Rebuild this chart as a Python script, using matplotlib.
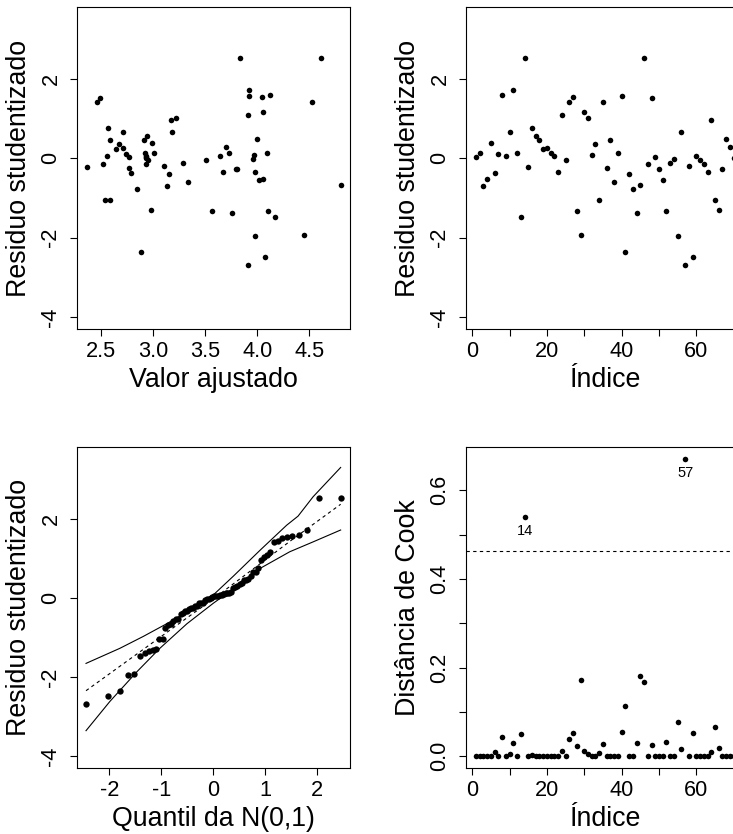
import matplotlib
matplotlib.use("Agg")
import matplotlib.pyplot as plt
import numpy as np
from statistics import NormalDist

plt.rcParams['font.family'] = ['Liberation Sans', 'DejaVu Sans']
plt.rcParams['axes.unicode_minus'] = False

# residuos studentizados, na ordem das observacoes (1..70)
residuo = [0.02, 0.14, -0.69, -0.53, 0.38, -0.38, 0.10, 1.59, 0.05, 0.66,
           1.72, 0.13, -1.47, 2.53, -0.22, 0.76, 0.55, 0.45, 0.24, 0.26,
           0.12, 0.05, -0.34, 1.09, -0.05, 1.41, 1.53, -1.34, -1.94, 1.16,
           1.02, 0.07, 0.35, -1.05, 1.42, -0.25, 0.45, -0.59, 0.13, 1.57,
           -2.37, -0.40, -0.77, -1.39, -0.67, 2.53, -0.14, 1.51, 0.03, -0.28,
           -0.54, -1.33, -0.13, -0.03, -1.95, 0.65, -2.69, -0.21, -2.48, 0.06,
           -0.04, -0.14, -0.34, 0.96, -1.05, -1.30, -0.27, 0.48, 0.29, 0.00]

# valores ajustados
ajustado = [2.766, 3.006, 3.130, 4.051, 2.986, 2.785, 2.743, 4.122, 2.554, 2.711,
            3.917, 2.922, 4.170, 3.831, 2.362, 2.567, 2.942, 2.586, 2.644, 2.711,
            4.093, 2.935, 3.671, 3.911, 2.954, 2.458, 4.042, 3.566, 4.446, 4.058,
            3.217, 3.969, 2.676, 2.535, 4.526, 2.772, 2.916, 3.335, 3.726, 3.920,
            2.884, 3.153, 2.849, 3.758, 4.800, 4.615, 2.522, 2.494, 2.930, 3.809,
            4.013, 4.100, 3.287, 3.956, 3.981, 3.178, 3.914, 3.102, 4.071, 3.643,
            3.505, 2.932, 3.981, 3.172, 2.590, 2.980, 3.800, 3.994, 3.703, 2.930]

# distancia de Cook
cook = [0.000, 0.000, 0.001, 0.001, 0.001, 0.010, 0.000, 0.043, 0.000, 0.005,
        0.031, 0.000, 0.051, 0.539, 0.000, 0.004, 0.001, 0.001, 0.001, 0.001,
        0.001, 0.001, 0.001, 0.013, 0.000, 0.040, 0.052, 0.024, 0.172, 0.013,
        0.006, 0.001, 0.001, 0.008, 0.027, 0.001, 0.001, 0.001, 0.000, 0.055,
        0.113, 0.001, 0.001, 0.031, 0.182, 0.168, 0.000, 0.026, 0.000, 0.001,
        0.001, 0.033, 0.000, 0.000, 0.077, 0.016, 0.670, 0.000, 0.052, 0.000,
        0.000, 0.000, 0.001, 0.009, 0.066, 0.018, 0.000, 0.000, 0.000, 0.001]
cook_corte = 0.464

# envelope simulado
env_q = [-2.45, -1.80, -1.35, -0.90, -0.39, 0.0, 0.39, 0.90, 1.41, 1.63, 1.92, 2.45]
env_sup = [-1.66, -1.28, -0.98, -0.66, -0.27, 0.07, 0.55, 1.20, 1.83, 2.06, 2.55, 3.29]
env_q2 = [-2.45, -1.99, -1.47, -1.03, -0.51, 0.0, 0.51, 0.90, 1.47, 1.92, 2.45]
env_inf = [-3.36, -2.62, -1.87, -1.28, -0.66, -0.14, 0.34, 0.74, 1.16, 1.41, 1.71]
med_q = [-2.45, -1.5, 0.0, 1.5, 2.45]
med = [-2.35, -1.45, -0.03, 1.45, 2.36]

n = len(residuo)
indice = np.arange(1, n + 1)
qteo = [NormalDist().inv_cdf((i - 0.5) / n) for i in range(1, n + 1)]

fig = plt.figure(figsize=(7.33, 8.34), dpi=100)
ylim_r = (-4.31, 3.80)
tick_fs = 15.7
lab_fs = 19.3
ms = 16


def estilo(ax):
    for s in ax.spines.values():
        s.set_linewidth(0.8)
    ax.tick_params(direction='out', length=5, width=0.8, labelsize=tick_fs)
    ax.tick_params(axis='x', pad=3.5)
    ax.tick_params(axis='y', pad=6)
    for t in ax.get_yticklabels():
        t.set_rotation(90)
        t.set_va('center')


def rotulos(ax, xl, yl, yx=-0.21):
    ax.set_xlabel(xl, fontsize=lab_fs)
    ax.set_ylabel(yl, fontsize=lab_fs)
    ax.xaxis.set_label_coords(0.5, -0.158)
    ax.xaxis.label.set_va('center')
    ax.yaxis.set_label_coords(yx, 0.5)
    ax.yaxis.label.set_va('center')


# residuo x ajustado
ax1 = fig.add_axes([0.1046, 0.6052, 0.3729, 0.3861])
ax1.scatter(ajustado, residuo, s=ms, c='black', linewidths=0)
ax1.set_xlim(2.267, 4.89)
ax1.set_ylim(*ylim_r)
ax1.set_xticks([2.5, 3.0, 3.5, 4.0, 4.5])
ax1.set_xticklabels(['2.5', '3.0', '3.5', '4.0', '4.5'])
ax1.set_yticks([-4, -2, 0, 2])
estilo(ax1)
rotulos(ax1, 'Valor ajustado', 'Residuo studentizado')

# residuo x indice
ax2 = fig.add_axes([0.6353, 0.6052, 0.3797, 0.3861])
ax2.scatter(indice, residuo, s=ms, c='black', linewidths=0)
ax2.set_xlim(-1.76, 72.76)
ax2.set_ylim(*ylim_r)
ax2.set_xticks(np.arange(0, 71, 10))
ax2.set_xticklabels(['0', '', '20', '', '40', '', '60', ''])
ax2.set_yticks([-4, -2, 0, 2])
estilo(ax2)
rotulos(ax2, 'Índice', 'Residuo studentizado', yx=-0.206)

# envelope
ax3 = fig.add_axes([0.1046, 0.0788, 0.3729, 0.3849])
ax3.scatter(qteo, sorted(residuo), s=ms * 1.3, c='black', linewidths=0, zorder=3)
ax3.plot(env_q, env_sup, color='black', lw=0.8)
ax3.plot(env_q2, env_inf, color='black', lw=0.8)
ax3.plot(med_q, med, color='black', lw=0.8, ls=(0, (3, 3)))
ax3.set_xlim(-2.63, 2.63)
ax3.set_ylim(*ylim_r)
ax3.set_xticks([-2, -1, 0, 1, 2])
ax3.set_yticks([-4, -2, 0, 2])
estilo(ax3)
rotulos(ax3, 'Quantil da N(0,1)', 'Residuo studentizado')

# distancia de Cook
ax4 = fig.add_axes([0.6353, 0.0788, 0.3797, 0.3849])
ax4.scatter(indice, cook, s=ms, c='black', linewidths=0)
ax4.axhline(cook_corte, color='black', lw=0.8, ls=(0, (3, 3)))
for i, c in zip(indice, cook):
    if c > cook_corte:
        ax4.annotate(str(i), (i, c), xytext=(0, -5), textcoords='offset points',
                     ha='center', va='top', fontsize=10.5)
ax4.set_xlim(-1.76, 72.76)
ax4.set_ylim(-0.027, 0.697)
ax4.set_xticks(np.arange(0, 71, 10))
ax4.set_xticklabels(['0', '', '20', '', '40', '', '60', ''])
ax4.set_yticks(np.arange(0, 0.61, 0.1))
ax4.set_yticklabels(['0.0', '', '0.2', '', '0.4', '', '0.6'])
estilo(ax4)
rotulos(ax4, 'Índice', 'Distância de Cook', yx=-0.206)

fig.savefig('out.png', dpi=100)
